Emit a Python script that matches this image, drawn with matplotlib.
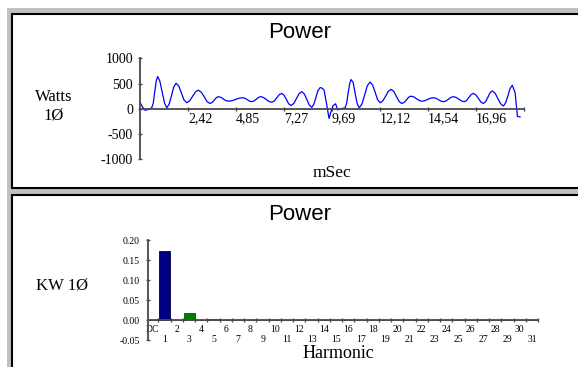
import matplotlib
matplotlib.use("Agg")
import matplotlib.pyplot as plt
from matplotlib.patches import Rectangle

W, H, DPI = 578, 367, 100

# Instantaneous single-phase power over one 50 Hz cycle
t_ms = [0.00, 0.12, 0.25, 0.42, 0.59, 0.67, 0.74, 0.82, 0.89,
        1.00, 1.12, 1.24, 1.35, 1.47, 1.59, 1.70, 1.82,
        1.96, 2.09, 2.22, 2.36, 2.50, 2.65, 2.80, 2.94,
        3.09, 3.24, 3.38, 3.53, 3.64, 3.74, 3.85, 3.95,
        4.08, 4.21, 4.33, 4.46, 4.64, 4.82, 5.00, 5.18,
        5.30, 5.41, 5.53, 5.64, 5.75, 5.87, 5.98, 6.09,
        6.23, 6.37, 6.51, 6.65, 6.78, 6.90, 7.03, 7.15,
        7.27, 7.39, 7.50, 7.62, 7.76, 7.89, 8.03, 8.16,
        8.29, 8.42, 8.54, 8.67, 8.77, 8.88, 8.98, 9.09,
        9.19, 9.29, 9.42, 9.54, 9.64, 9.74, 9.87, 9.98, 10.15, 10.35,
        10.43, 10.50, 10.58, 10.65, 10.76, 10.86, 10.97, 11.07,
        11.20, 11.34, 11.47, 11.61, 11.74, 11.87, 11.99, 12.12,
        12.26, 12.40, 12.53, 12.67, 12.81, 12.94, 13.08, 13.21,
        13.33, 13.45, 13.56, 13.68, 13.82, 13.95, 14.09, 14.22,
        14.37, 14.52, 14.66, 14.81, 14.94, 15.06, 15.19, 15.31,
        15.44, 15.57, 15.69, 15.82, 15.96, 16.09, 16.23, 16.36,
        16.48, 16.59, 16.71, 16.82, 16.95, 17.08, 17.20, 17.33,
        17.44, 17.56, 17.67, 17.78, 17.92, 18.06, 18.20, 18.34,
        18.45, 18.57, 18.68, 18.79, 18.93, 19.05, 19.18]
watts = [130, 40, -28, -15, 20, 110, 330, 550, 640,
         550, 330, 110, 20, 90, 260, 430, 505,
         450, 310, 175, 120, 155, 245, 335, 370,
         330, 240, 145, 105, 125, 170, 220, 240,
         227, 195, 163, 150, 160, 185, 210, 220,
         208, 180, 152, 140, 155, 190, 225, 240,
         225, 185, 145, 130, 155, 218, 280, 305,
         270, 185, 100, 65, 105, 200, 300, 340,
         295, 185, 75, 30, 90, 225, 360, 420,
         410, 370, 90, -190, -60, 60, 100, -20, 0, 20,
         110, 300, 490, 580, 520, 300, 90, 20,
         95, 275, 455, 530, 470, 325, 180, 120,
         160, 250, 345, 385, 345, 245, 145, 105,
         125, 178, 230, 250, 235, 200, 165, 150,
         160, 185, 210, 220, 208, 180, 152, 140,
         155, 190, 225, 240, 225, 190, 155, 140,
         165, 222, 280, 305, 275, 205, 135, 105,
         140, 230, 320, 355, 310, 205, 100, 55,
         115, 260, 405, 465, 320, -150, -160]
time_ticks = [2.42, 4.85, 7.27, 9.69, 12.12, 14.54, 16.96, 19.38]
time_tick_labels = ["2,42", "4,85", "7,27", "9,69", "12,12", "14,54", "16,96", ""]
watt_ticks = [-1000, -500, 0, 500, 1000]
watt_tick_labels = ["-1000", "-500", "0", "500", "1000"]

# Harmonic spectrum of power
harmonics = ["DC", "1", "2", "3", "4", "5", "6", "7", "8", "9", "10", "11", "12",
             "13", "14", "15", "16", "17", "18", "19", "20", "21", "22", "23",
             "24", "25", "26", "27", "28", "29", "30", "31"]
kw = [0.0, 0.173, 0.0, 0.018, 0.0, 0.003, 0.0, 0.0, 0.0, 0.0, 0.0, 0.0, 0.0,
      0.0, 0.0, 0.0, 0.0, 0.0, 0.0, 0.0, 0.0, 0.0, 0.0, 0.0, 0.0, 0.0, 0.0,
      0.0, 0.0, 0.0, 0.0, 0.0]
kw_ticks = [-0.05, 0.0, 0.05, 0.10, 0.15, 0.20]

SERIF = "Liberation Serif"
SANS = "Liberation Sans"
AXIS_COLOR = "#4a4a4a"


def frac(x0, y0, x1, y1):
    """Pixel box (origin top-left) -> figure fraction [l, b, w, h]."""
    return [x0 / W, 1 - y1 / H, (x1 - x0) / W, (y1 - y0) / H]


def fpt(x, y):
    return x / W, 1 - y / H


fig = plt.figure(figsize=(W / DPI, H / DPI), dpi=DPI)
fig.patch.set_facecolor("white")

# window frame and the two panels
fig.add_artist(Rectangle(fpt(7, 367), (578 - 7) / W, (367 - 8) / H,
                         transform=fig.transFigure, facecolor="#c0c0c0",
                         edgecolor="none", zorder=-10))
for (x0, y0, x1, y1) in [(12.5, 14, 600, 188), (12.5, 194.5, 600, 420)]:
    l, b, w, h = frac(x0, y0, x1, y1)
    fig.add_artist(Rectangle((l, b), w, h, transform=fig.transFigure,
                             facecolor="white", edgecolor="black", lw=1.5,
                             zorder=-9))


def style_axes(ax):
    ax.set_facecolor("none")
    for s in ("top", "right"):
        ax.spines[s].set_visible(False)
    for s in ("left", "bottom"):
        ax.spines[s].set_color(AXIS_COLOR)
        ax.spines[s].set_linewidth(1.3)
    ax.spines["bottom"].set_position(("data", 0))


# ---- top panel: power waveform ----
ax1 = fig.add_axes(frac(140, 58.3, 524, 159.3))
style_axes(ax1)
ax1.plot(t_ms, watts, color="#0000ff", lw=0.9, clip_on=False)
ax1.set_xlim(0, 19.38)
ax1.set_ylim(-1000, 1000)
ax1.set_xticks(time_ticks, time_tick_labels)
ax1.set_yticks(watt_ticks, watt_tick_labels)
for lab in ax1.get_xticklabels():
    lab.set_horizontalalignment("left")
ax1.tick_params(axis="x", direction="inout", length=3, width=1,
                color=AXIS_COLOR, pad=0.6, labelsize=10)
ax1.tick_params(axis="y", direction="inout", length=3, width=1,
                color=AXIS_COLOR, pad=3.5, labelsize=10)
for lab in ax1.get_xticklabels() + ax1.get_yticklabels():
    lab.set_family(SERIF)

fig.text(*fpt(300, 33), "Power", ha="center", va="center", fontsize=16,
         family=SANS)
fig.text(*fpt(54, 106.5), "Watts\n1Ø", ha="center", va="center",
         fontsize=12, family=SERIF, linespacing=1.25)
fig.text(*fpt(332, 173), "mSec", ha="center", va="center", fontsize=12.5,
         family=SERIF)

# ---- bottom panel: harmonic bars ----
ax2 = fig.add_axes(frac(147.7, 240, 538.2, 340))
style_axes(ax2)
pos = list(range(len(harmonics)))
colors = ["#000080" if h == "1" else "#008000" for h in harmonics]
edges = ["#000050" if h == "1" else "#005000" for h in harmonics]
ax2.bar(pos, kw, width=0.9, color=colors, edgecolor=edges, lw=0.6)
ax2.set_xlim(-0.38, 31.5)
ax2.set_ylim(-0.05, 0.20)
ax2.set_yticks(kw_ticks, [f"{v:.2f}" for v in kw_ticks])
ax2.tick_params(axis="y", direction="inout", length=3, width=1,
                color=AXIS_COLOR, pad=4.2, labelsize=7)

# two staggered rows of category labels
ax2.set_xticks(pos[0::2], harmonics[0::2])
ax2.set_xticks(pos[1::2], harmonics[1::2], minor=True)
ax2.tick_params(axis="x", which="major", length=0, pad=3.3, labelsize=7)
ax2.tick_params(axis="x", which="minor", length=0, pad=11, labelsize=7)
for lab in (ax2.get_xticklabels() + ax2.get_xticklabels(minor=True)
            + ax2.get_yticklabels()):
    lab.set_family(SERIF)

# tick marks on the category boundaries
bounds = ax2.secondary_xaxis(0.2)
bounds.set_xticks([p + 0.5 for p in pos])
bounds.tick_params(direction="inout", length=3, width=1, color=AXIS_COLOR,
                   labelbottom=False)
bounds.spines["bottom"].set_visible(False)

fig.text(*fpt(300, 215), "Power", ha="center", va="center", fontsize=16,
         family=SANS)
fig.text(*fpt(62, 285), "KW 1Ø", ha="center", va="center", fontsize=12,
         family=SERIF)
fig.text(*fpt(338, 353), "Harmonic", ha="center", va="center", fontsize=13,
         family=SERIF)

fig.savefig("out.png", dpi=DPI)
